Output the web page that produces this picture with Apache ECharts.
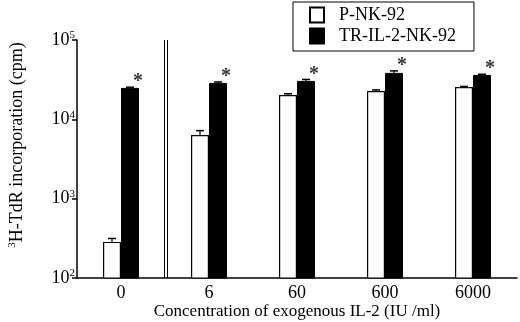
<!DOCTYPE html>
<html>
<head>
<meta charset="utf-8">
<script src="https://cdn.jsdelivr.net/npm/echarts@6/dist/echarts.min.js"></script>
<style>
  html, body { margin: 0; padding: 0; background: #fff; }
  #chart { width: 520px; height: 322px; }
</style>
</head>
<body>
<div id="chart"></div>
<script>
// IL-2 concentrations (IU/ml)
const categories = ['0', '6', '60', '600', '6000']
// 3H-TdR incorporation (cpm)
const parentValues = [285, 6350, 20300, 22800, 25600]
const parentErrTop = [315, 7200, 21000, 23500, 26000]
const transValues = [24900, 28800, 30500, 38500, 36300]
const transErrTop = [25400, 29600, 31800, 40800, 37000]
const yTicks = [100, 1000, 10000, 100000]

const serif = '"Liberation Serif", "DejaVu Serif", serif'
const BAR_W = 18

// error bar: vertical stem from bar top to error top, with a short cap
function errorBar (shift, vals, tops) {
  return function (params, api) {
    const i = api.value(0)
    const base = api.coord([i, vals[i]])
    const top = api.coord([i, tops[i]])
    const x = base[0] + shift
    return {
      type: 'group',
      children: [
        { type: 'line', shape: { x1: x, y1: base[1], x2: x, y2: top[1] }, style: { stroke: '#000', lineWidth: 1.2 } },
        { type: 'line', shape: { x1: x - 4, y1: top[1], x2: x + 4, y2: top[1] }, style: { stroke: '#000', lineWidth: 1.5 } }
      ]
    }
  }
}

const chart = echarts.init(document.getElementById('chart'))
const option = {
  animation: false,
  grid: { left: 77, right: 3, top: 40, bottom: 44, outerBoundsMode: 'none' },
  legend: {
    orient: 'vertical',
    left: 293,
    top: 2,
    padding: [4, 18, 6, 16],
    itemGap: 3,
    itemWidth: 14,
    itemHeight: 15,
    icon: 'rect',
    borderColor: '#000',
    borderWidth: 1,
    textStyle: { fontFamily: serif, fontSize: 18, color: '#000', padding: [0, 0, 0, 10] },
    data: ['P-NK-92', 'TR-IL-2-NK-92']
  },
  xAxis: {
    type: 'category',
    data: categories,
    axisLine: { lineStyle: { color: '#000', width: 1.5 } },
    axisTick: { show: false },
    axisLabel: { color: '#000', fontFamily: serif, fontSize: 18, margin: 6 },
    name: 'Concentration of exogenous IL-2 (IU /ml)',
    nameLocation: 'middle',
    nameGap: 25,
    nameMoveOverlap: false,
    nameTextStyle: { color: '#000', fontFamily: serif, fontSize: 17 }
  },
  yAxis: {
    type: 'log',
    logBase: 10,
    min: yTicks[0],
    max: yTicks[yTicks.length - 1],
    splitLine: { show: false },
    minorTick: { show: false },
    axisLine: { show: true, lineStyle: { color: '#000', width: 1.5 } },
    axisTick: { show: true, length: 5, lineStyle: { color: '#000', width: 1.5 } },
    axisLabel: {
      color: '#000',
      fontFamily: serif,
      fontSize: 18,
      margin: 2,
      formatter: v => '10{s|' + Math.round(Math.log10(v)) + '}',
      rich: { s: { fontFamily: serif, fontSize: 11, verticalAlign: 'top', padding: [0, 0, 9, 0], color: '#000' } }
    },
    name: '{s|3}H-TdR incorporation (cpm)',
    nameLocation: 'middle',
    nameGap: 50,
    nameMoveOverlap: false,
    nameTextStyle: {
      color: '#000',
      fontFamily: serif,
      fontSize: 18,
      padding: [0, 0, 0, 28],
      rich: { s: { fontFamily: serif, fontSize: 11, padding: [0, 0, 9, 0], color: '#000' } }
    }
  },
  series: [
    {
      name: 'P-NK-92',
      type: 'bar',
      data: parentValues,
      barWidth: BAR_W,
      barGap: '0%',
      itemStyle: { color: '#fff', borderColor: '#000', borderWidth: 1.2 }
    },
    {
      name: 'TR-IL-2-NK-92',
      type: 'bar',
      data: transValues,
      barWidth: BAR_W,
      barGap: '0%',
      itemStyle: { color: '#000', borderColor: '#000', borderWidth: 1 }
    },
    {
      type: 'custom',
      data: categories.map((c, i) => [i]),
      renderItem: errorBar(-BAR_W / 2, parentValues, parentErrTop),
      z: 5
    },
    {
      type: 'custom',
      data: categories.map((c, i) => [i]),
      renderItem: errorBar(BAR_W / 2, transValues, transErrTop),
      z: 5
    },
    {
      // significance marks above the transfected bars
      type: 'scatter',
      data: transErrTop.map((v, i) => [i, v]),
      symbolSize: 0,
      label: {
        show: true,
        formatter: '*',
        position: 'top',
        distance: 0,
        offset: [17, 5],
        color: '#000',
        fontFamily: serif,
        fontSize: 20,
        fontWeight: 'bold'
      },
      silent: true
    }
  ]
}
chart.setOption(option)

// axis break mark (double line) between 0 and 6
const p0 = chart.convertToPixel({ xAxisIndex: 0 }, categories[0])
const p1 = chart.convertToPixel({ xAxisIndex: 0 }, categories[1])
const yTop = chart.convertToPixel({ yAxisIndex: 0 }, yTicks[yTicks.length - 1])
const yBot = chart.convertToPixel({ yAxisIndex: 0 }, yTicks[0])
const mid = (p0 + p1) / 2 + 1
chart.setOption({
  graphic: [
    { type: 'line', shape: { x1: mid - 1.5, y1: yTop, x2: mid - 1.5, y2: yBot }, style: { stroke: '#000', lineWidth: 1 } },
    { type: 'line', shape: { x1: mid + 1.5, y1: yTop, x2: mid + 1.5, y2: yBot }, style: { stroke: '#000', lineWidth: 1 } }
  ]
})
</script>
</body>
</html>
